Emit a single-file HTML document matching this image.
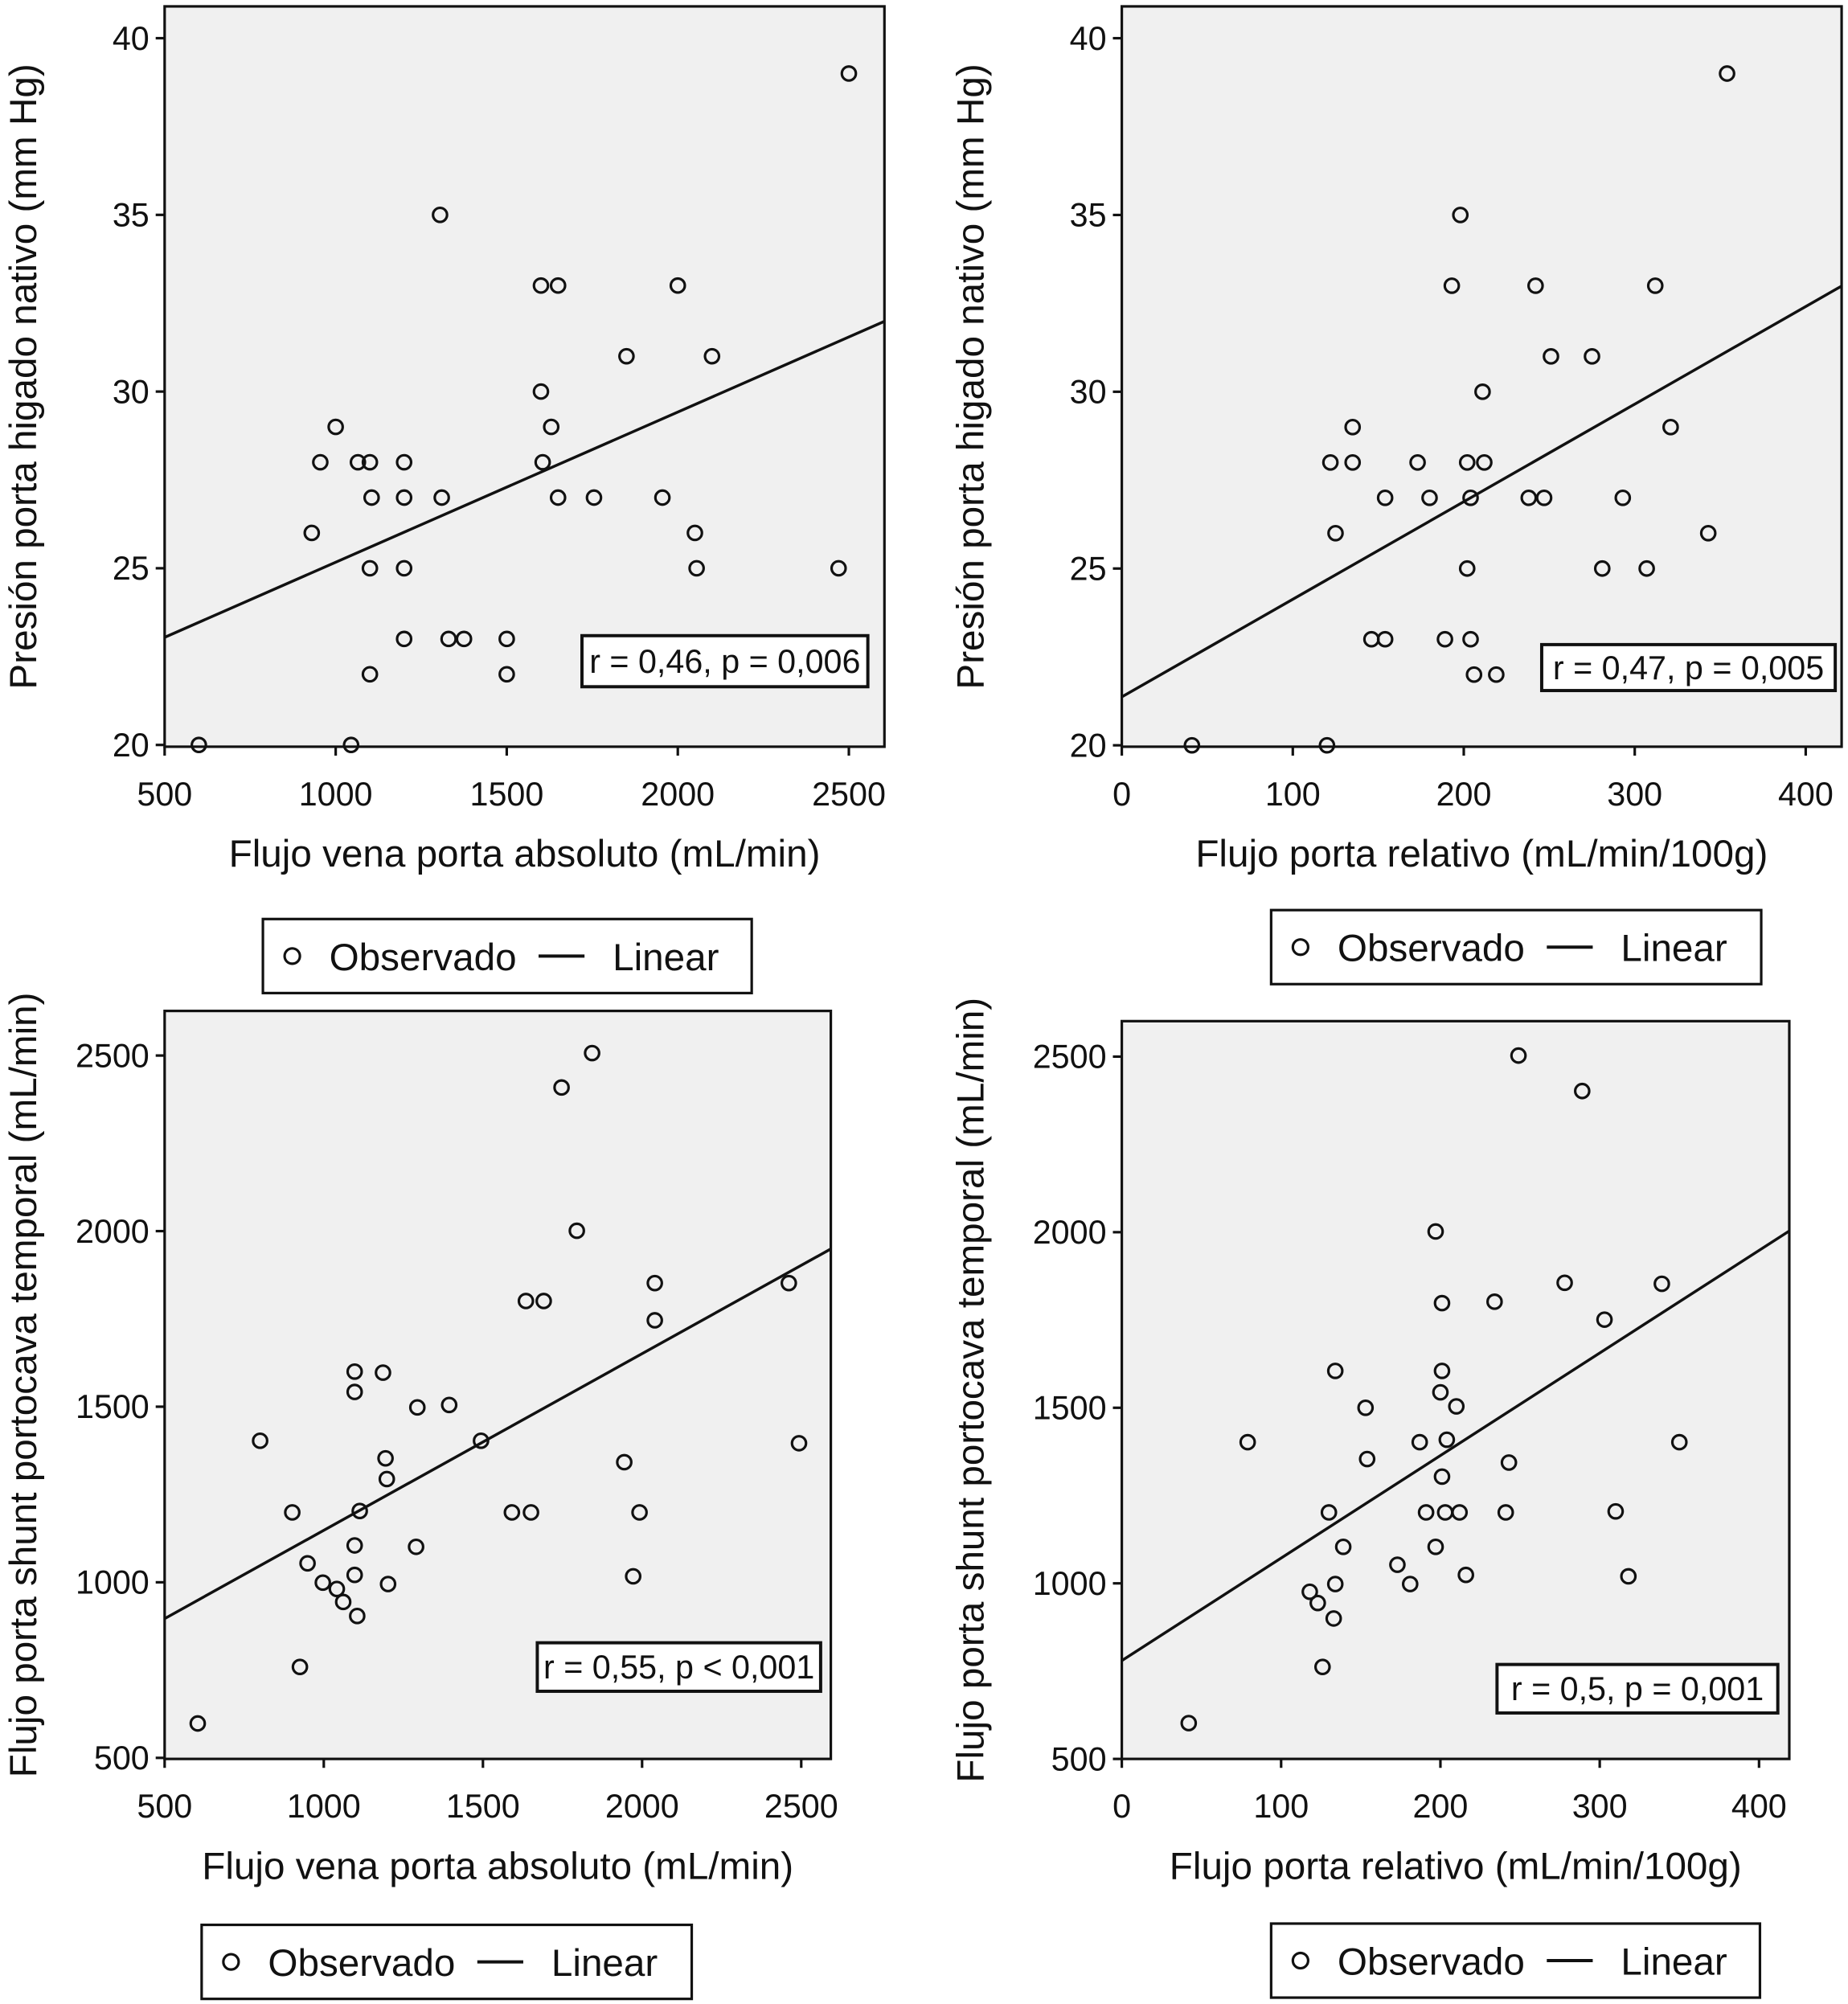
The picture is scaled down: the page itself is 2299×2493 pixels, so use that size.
<!DOCTYPE html>
<html><head><meta charset="utf-8"><style>
html,body{margin:0;padding:0;background:#fff}
svg{display:block}
text{font-family:"Liberation Sans",Arial,sans-serif;fill:#111}
</style></head><body>
<svg id="fig" width="2299" height="2493" viewBox="0 0 1448 1570" preserveAspectRatio="none" xmlns="http://www.w3.org/2000/svg"></svg>
<script>
// Panel A: absolute flow vs pressure
const p1X=[600,1045,930,955,1000,1065,1100,1105,1100,1100,1200,1200,1200,1200,1305,1310,1330,1375,1500,1500,1600,1650,1600,1605,1630,1650,1755,1850,1955,2000,2050,2055,2100,2470,2500];
const p1Y=[20,20,26,28,29,28,28,27,25,22,28,27,25,23,35,27,23,23,23,22,33,33,30,28,29,27,27,31,27,33,26,25,31,25,39];
const p1Fit=[20.92,0.00425];
// Panel B: relative flow vs pressure
const p2X=[41,120,122,125,135,135,146,154,154,173,180,189,193,198,202,202,204,204,206,211,212,219,238,242,247,251,275,281,293,307,312,321,343,354];
const p2Y=[20,20,28,26,29,28,23,23,27,28,27,23,33,35,25,28,27,23,22,30,28,22,27,33,27,31,31,25,27,25,33,29,26,39];
const p2Fit=[21.37,0.0276];
// Panel C: absolute flow vs shunt flow
const p3X=[604,800,901,925,949,997,1041,1061,1097,1097,1097,1097,1105,1113,1186,1194,1198,1202,1294,1290,1394,1494,1591,1651,1635,1691,1747,1795,1843,1944,1972,1992,2040,2040,2461,2493];
const p3Y=[598,1403,1199,759,1054,999,981,944,1600,1542,1105,1021,904,1203,1597,1353,1294,995,1498,1101,1505,1403,1199,1199,1801,1801,2409,2001,2507,1342,1017,1199,1852,1746,1852,1396];
const p3Fit=[645,0.503];
// Panel D: relative flow vs shunt flow
const p4X=[42,79,118,123,126,134,130,134,133,139,153,154,173,181,187,191,197,197,200,201,201,201,203,204,210,212,216,234,241,243,249,278,289,303,310,318,339,350];
const p4Y=[602,1402,976,944,762,1605,1202,998,900,1104,1500,1354,1053,998,1402,1202,2002,1104,1544,1605,1798,1304,1202,1409,1504,1202,1024,1802,1202,1344,2503,1856,2402,1751,1205,1020,1853,1402];
const p4Fit=[780,2.92];

const ticksAbs=[500,1000,1500,2000,2500];
const ticksRel=[0,100,200,300,400];
const ticksP=[20,25,30,35,40];
const ticksS=[500,1000,1500,2000,2500];

const NS="http://www.w3.org/2000/svg";
const svg=document.getElementById('fig');
function el(tag,attrs,parent){const e=document.createElementNS(NS,tag);for(const k in attrs)e.setAttribute(k,attrs[k]);(parent||svg).appendChild(e);return e;}

const panels=[
 {id:'a',box:[129,5,693,585],xd:[500,2604],yd:[19.95,40.9],xs:p1X,ys:p1Y,fit:p1Fit,xt:ticksAbs,yt:ticksP,
  xlab:'Flujo vena porta absoluto (mL/min)',ylab:'Presión porta higado nativo (mm Hg)',ylx:18,stat:'r = 0,46, p = 0,006',sb:[456,498,680,538],leg:[206,720,589,778]},
 {id:'b',box:[879,5,1443,585],xd:[0,421],yd:[19.96,40.9],xs:p2X,ys:p2Y,fit:p2Fit,xt:ticksRel,yt:ticksP,
  xlab:'Flujo porta relativo (mL/min/100g)',ylab:'Presión porta higado nativo (mm Hg)',ylx:760,stat:'r = 0,47, p = 0,005',sb:[1208,505,1438,541],leg:[996,713,1380,771]},
 {id:'c',box:[129,792,651,1378],xd:[500,2593],yd:[497,2627],xs:p3X,ys:p3Y,fit:p3Fit,xt:ticksAbs,yt:ticksS,
  xlab:'Flujo vena porta absoluto (mL/min)',ylab:'Flujo porta shunt portocava temporal (mL/min)',ylx:18,stat:'r = 0,55, p < 0,001',sb:[421,1287,643,1325],leg:[158,1508,542,1566]},
 {id:'d',box:[879,800,1402,1378],xd:[0,419],yd:[500,2601],xs:p4X,ys:p4Y,fit:p4Fit,xt:ticksRel,yt:ticksS,
  xlab:'Flujo porta relativo (mL/min/100g)',ylab:'Flujo porta shunt portocava temporal (mL/min)',ylx:760,stat:'r = 0,5, p = 0,001',sb:[1173,1304,1393,1342],leg:[996,1507,1379,1565]}
];

panels.forEach(p=>{
 const [x0,y0,x1,y1]=p.box;
 const sx=v=>x0+(v-p.xd[0])/(p.xd[1]-p.xd[0])*(x1-x0);
 const sy=v=>y1-(v-p.yd[0])/(p.yd[1]-p.yd[0])*(y1-y0);
 const g=el('g',{});
 
 
 const r=el('rect',{x:x0,y:y0,width:x1-x0,height:y1-y0,fill:'#f0f0f0',stroke:'#111','stroke-width':2},g);
 
 
 p.xt.forEach(t=>{
  const x=sx(t);
  const l=el('line',{x1:x,y1:y1,x2:x,y2:y1+7,stroke:'#111','stroke-width':2},g);
  
  
  const tx=el('text',{x:x,y:y1+46,'font-size':26,'text-anchor':'middle'},g);
  tx.textContent=t;
  
  
 });
 p.yt.forEach(t=>{
  const y=sy(t);
  const l=el('line',{x1:x0-7,y1:y,x2:x0,y2:y,stroke:'#111','stroke-width':2},g);
  
  
  const tx=el('text',{x:x0-12,y:y+9,'font-size':26,'text-anchor':'end'},g);
  tx.textContent=t;
  
  
 });
 const f=v=>p.fit[0]+p.fit[1]*v;
 const fl=el('line',{x1:sx(p.xd[0]),y1:sy(f(p.xd[0])),x2:sx(p.xd[1]),y2:sy(f(p.xd[1])),stroke:'#111','stroke-width':2.2},g);
 
 
 p.xs.forEach((v,i)=>{
  const c=el('circle',{cx:sx(v),cy:sy(p.ys[i]),r:5.5,fill:'none',stroke:'#111','stroke-width':2},g);
  
  
 });
 const [a,b,c2,d]=p.sb;
 const sbr=el('rect',{x:a,y:b,width:c2-a,height:d-b,fill:'#fff',stroke:'#111','stroke-width':2.5},g);
 
 
 const st=el('text',{x:(a+c2)/2,y:(b+d)/2+9,'font-size':26,'text-anchor':'middle'},g);
 st.textContent=p.stat;
 
 
 const xl=el('text',{x:(x0+x1)/2,y:y1+94,'font-size':30,'text-anchor':'middle'},g);
 xl.textContent=p.xlab;
 
 
 const cy=(y0+y1)/2;
 const yl=el('text',{x:p.ylx,y:cy,'font-size':30,'text-anchor':'middle',transform:'rotate(-90 '+p.ylx+' '+cy+')',dy:'0.35em'},g);
 yl.textContent=p.ylab;
 
 
 const [la,lb,lc,ld]=p.leg;
 const lg=el('g',{},g);
 
 
 el('rect',{x:la,y:lb,width:lc-la,height:ld-lb,fill:'#fff',stroke:'#111','stroke-width':2},lg);
 const my=(lb+ld)/2;
 el('circle',{cx:la+23,cy:my,r:6,fill:'none',stroke:'#111','stroke-width':2},lg);
 const t1=el('text',{x:la+52,y:my+11,'font-size':30},lg);
 t1.textContent='Observado';
 
 
 el('line',{x1:la+216,y1:my,x2:la+252,y2:my,stroke:'#111','stroke-width':2.5},lg);
 const t2=el('text',{x:la+274,y:my+11,'font-size':30},lg);
 t2.textContent='Linear';
 
 
});
</script>
</body></html>
